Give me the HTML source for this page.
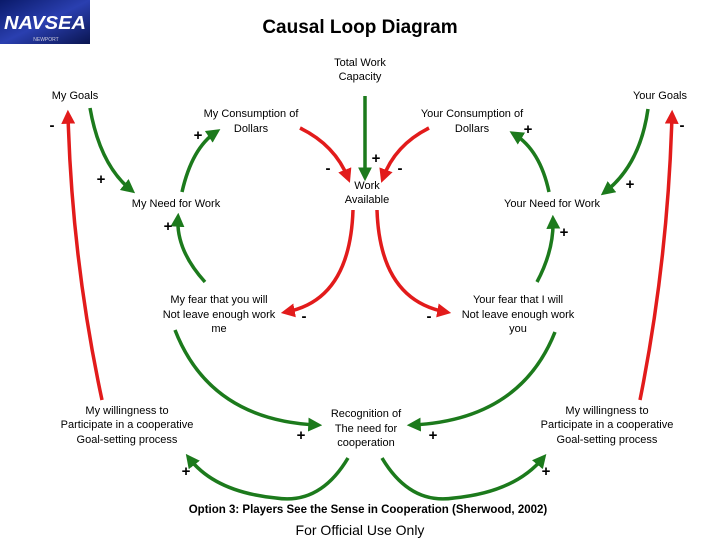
<!DOCTYPE html>
<html><head><meta charset="utf-8"><style>
body{margin:0;width:720px;height:540px;background:#fff;overflow:hidden;font-family:"Liberation Sans",sans-serif}
svg{position:absolute;left:0;top:0}
</style></head><body>
<svg width="720" height="540" viewBox="0 0 720 540">
<defs>
<marker id="g" markerWidth="4" markerHeight="4" refX="2.5" refY="2" orient="auto" markerUnits="strokeWidth"><path d="M0,0 L4,2 L0,4 Z" fill="#1c7a1c"/></marker>
<marker id="r" markerWidth="4" markerHeight="4" refX="2.5" refY="2" orient="auto" markerUnits="strokeWidth"><path d="M0,0 L4,2 L0,4 Z" fill="#e21b1b"/></marker>
<linearGradient id="lg" x1="0" y1="0" x2="1" y2="1"><stop offset="0" stop-color="#0a1a6a"/><stop offset="0.5" stop-color="#2a3fb0"/><stop offset="1" stop-color="#0a1550"/></linearGradient>
</defs>
<rect x="0" y="0" width="90" height="44" fill="url(#lg)"/>
<text x="45" y="29" font-size="18" font-weight="bold" font-style="italic" fill="#fff" text-anchor="middle" font-family="Liberation Sans" textLength="82" lengthAdjust="spacingAndGlyphs">NAVSEA</text>
<text x="46" y="41" font-size="5" fill="#ccd" text-anchor="middle">NEWPORT</text>
<g fill="none" stroke-width="3.5">
<path d="M102,400 Q72,260 68,115" stroke="#e21b1b" marker-end="url(#r)"/>
<path d="M640,400 Q668,260 672,115" stroke="#e21b1b" marker-end="url(#r)"/>
<path d="M90,108 Q100,165 131,190" stroke="#1c7a1c" marker-end="url(#g)"/>
<path d="M182,192 Q192,148 216,132" stroke="#1c7a1c" marker-end="url(#g)"/>
<path d="M300,128 Q335,145 348,178" stroke="#e21b1b" marker-end="url(#r)"/>
<path d="M365,96 L365,176" stroke="#1c7a1c" marker-end="url(#g)"/>
<path d="M429,128 Q395,145 383,178" stroke="#e21b1b" marker-end="url(#r)"/>
<path d="M549,192 Q540,150 514,134" stroke="#1c7a1c" marker-end="url(#g)"/>
<path d="M648,109 Q640,165 605,192" stroke="#1c7a1c" marker-end="url(#g)"/>
<path d="M205,282 Q176,250 178,218" stroke="#1c7a1c" marker-end="url(#g)"/>
<path d="M537,282 Q554,250 553,220" stroke="#1c7a1c" marker-end="url(#g)"/>
<path d="M353,210 Q350,300 286,312" stroke="#e21b1b" marker-end="url(#r)"/>
<path d="M377,210 Q380,300 446,312" stroke="#e21b1b" marker-end="url(#r)"/>
<path d="M175,330 Q210,420 317,425" stroke="#1c7a1c" marker-end="url(#g)"/>
<path d="M555,332 Q520,420 412,425" stroke="#1c7a1c" marker-end="url(#g)"/>
<path d="M348,458 Q320,505 276,498 Q215,492 189,458" stroke="#1c7a1c" marker-end="url(#g)"/>
<path d="M382,458 Q410,505 454,498 Q515,492 543,458" stroke="#1c7a1c" marker-end="url(#g)"/>
</g>
<g font-size="11" fill="#000" text-anchor="middle">
<text x="360" y="33" font-size="19" font-weight="bold">Causal Loop Diagram</text>
<text x="360" y="66">Total Work</text><text x="360" y="80">Capacity</text>
<text x="75" y="99">My Goals</text><text x="660" y="99">Your Goals</text>
<text x="251" y="117">My Consumption of</text><text x="251" y="132">Dollars</text>
<text x="472" y="117">Your Consumption of</text><text x="472" y="132">Dollars</text>
<text x="367" y="189">Work</text><text x="367" y="203">Available</text>
<text x="176" y="207">My Need for Work</text><text x="552" y="207">Your Need for Work</text>
<text x="219" y="303">My fear that you will</text><text x="219" y="318">Not leave enough work</text><text x="219" y="332">me</text>
<text x="518" y="303">Your fear that I will</text><text x="518" y="318">Not leave enough work</text><text x="518" y="332">you</text>
<text x="127" y="414">My willingness to</text><text x="127" y="428">Participate in a cooperative</text><text x="127" y="443">Goal-setting process</text>
<text x="607" y="414">My willingness to</text><text x="607" y="428">Participate in a cooperative</text><text x="607" y="443">Goal-setting process</text>
<text x="366" y="417">Recognition of</text><text x="366" y="432">The need for</text><text x="366" y="446">cooperation</text>
<text x="368" y="513" font-weight="bold" font-size="11.5">Option 3: Players See the Sense in Cooperation (Sherwood, 2002)</text>
<text x="360" y="535" font-size="14">For Official Use Only</text>
</g>
<g font-size="15" font-weight="bold" fill="#000" text-anchor="middle">
<text x="52" y="130">-</text><text x="198" y="140">+</text><text x="101" y="184">+</text>
<text x="328" y="173">-</text><text x="376" y="163">+</text><text x="400" y="173">-</text>
<text x="528" y="134">+</text><text x="682" y="130">-</text><text x="630" y="189">+</text>
<text x="168" y="231">+</text><text x="564" y="237">+</text>
<text x="304" y="321">-</text><text x="429" y="321">-</text>
<text x="301" y="440">+</text><text x="433" y="440">+</text>
<text x="186" y="476">+</text><text x="546" y="476">+</text>
</g>
</svg>
</body></html>
